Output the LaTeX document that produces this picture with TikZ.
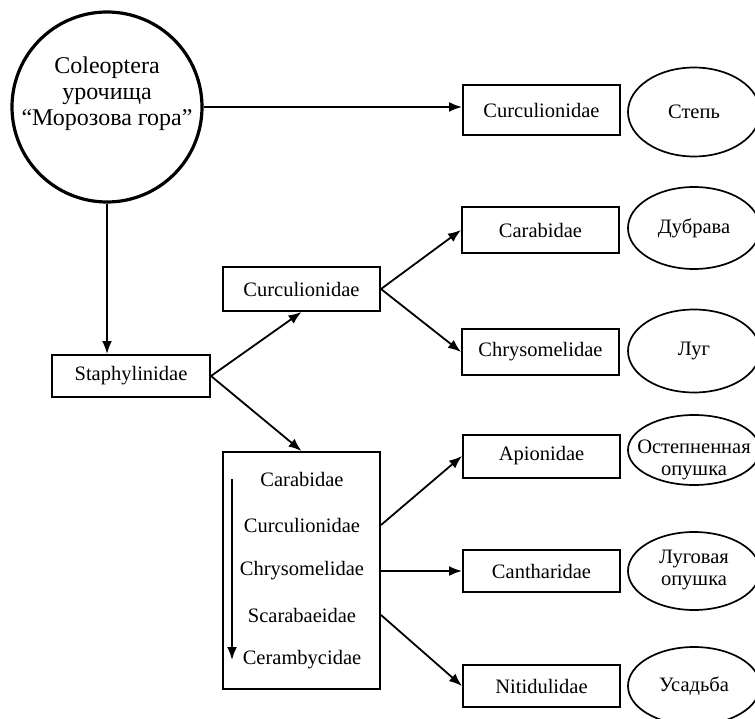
\documentclass[tikz,border=0pt]{standalone}
\usepackage{fontspec}
\setmainfont{Liberation Serif}
\usetikzlibrary{arrows.meta,shapes.geometric,calc}
\begin{document}
\begin{tikzpicture}[x=1pt,y=-1pt,
  txt/.style={font=\fontsize{20.5}{22.5}\selectfont, inner sep=0pt},
  famBox/.style={draw, line width=2pt, minimum width=157pt, font=\fontsize{20.5}{22}\selectfont, inner sep=0pt},
  oval/.style={draw, ellipse, line width=1.7pt, minimum width=132pt, inner sep=0pt},
  arr/.style={line width=1.8pt, -{Latex[length=13pt,width=10pt]}}
]
\useasboundingbox (0,0) rectangle (755,719);
\clip (0,0) rectangle (755,719);
\fill[white] (0,0) rectangle (755,719);

% root circle
\node[draw, circle, line width=3.2pt, minimum size=190pt, inner sep=0pt] (circ) at (107,107) {};
\node[align=center, font=\fontsize{24}{26}\selectfont, inner sep=0pt] (circtxt) at (107,94) {Coleoptera\\урочища\\“Морозова гора”};

% boxes
\node[famBox, minimum height=50pt] (top) at (541.5,110) {Curculionidae};
\node[famBox, minimum height=46pt] (carab) at (540.5,230) {Carabidae};
\node[famBox, minimum height=44pt] (curc2) at (301.5,289) {Curculionidae};
\node[famBox, minimum height=45pt] (chrys) at (540.5,352) {Chrysomelidae};
\node[famBox, minimum width=158pt, minimum height=42pt] (staph) at (131,376) {Staphylinidae};
\node[famBox, minimum height=237pt] (big) at (301.5,570.5) {};
\node[famBox, minimum height=43pt] (apion) at (541.5,456) {Apionidae};
\node[famBox, minimum height=42pt] (canth) at (541.5,571) {Cantharidae};
\node[famBox, minimum height=42pt] (nitid) at (541.5,686) {Nitidulidae};

% list inside big box
\node[txt] (l1) at (302,479) {Carabidae};
\node[txt] (l2) at (302,525) {Curculionidae};
\node[txt] (l3) at (302,571) {Chrysomelidae};
\node[txt] (l4) at (302,615) {Scarabaeidae};
\node[txt] (l5) at (302,660) {Cerambycidae};

% ellipses
\node[oval, minimum height=89pt] (step) at (694,112) {};
\node[txt] at (step) {Степь};
\node[oval, minimum height=82pt] (dubr) at (694,228) {};
\node[txt] at (dubr) {Дубрава};
\node[oval, minimum height=83pt] (lug) at (694,351) {};
\node[txt] at (lug) {Луг};
\node[oval, minimum height=70pt] (ostep) at (694,450) {};
\node[txt, align=center] at ([yshift=-10pt]ostep.center) {Остепненная\\опушка};
\node[oval, minimum height=78pt] (lugop) at (694,571) {};
\node[txt, align=center] at ([yshift=1pt]lugop.center) {Луговая\\опушка};
\node[oval, minimum height=78pt] (usad) at (694,686) {};
\node[txt] at (usad) {Усадьба};

% connectors
\draw[arr] (circ.east) -- (circ.east -| top.west);
\draw[arr] (circ.south) -- (circ.south |- staph.north);
\draw[arr] (staph.east) -- (curc2.south);
\draw[arr] (staph.east) -- (big.north);
\draw[arr] (curc2.east) -- (carab.west);
\draw[arr] (curc2.east) -- (chrys.west);
\draw[arr] (big.east |- l2) -- (apion.west);
\draw[arr] (big.east |- l3) -- (canth.west);
\draw[arr] (big.east |- l4) -- (nitid.west);
\draw[arr] ([xshift=10pt]big.west |- l1) -- ([xshift=10pt]big.west |- l5);
\end{tikzpicture}
\end{document}
